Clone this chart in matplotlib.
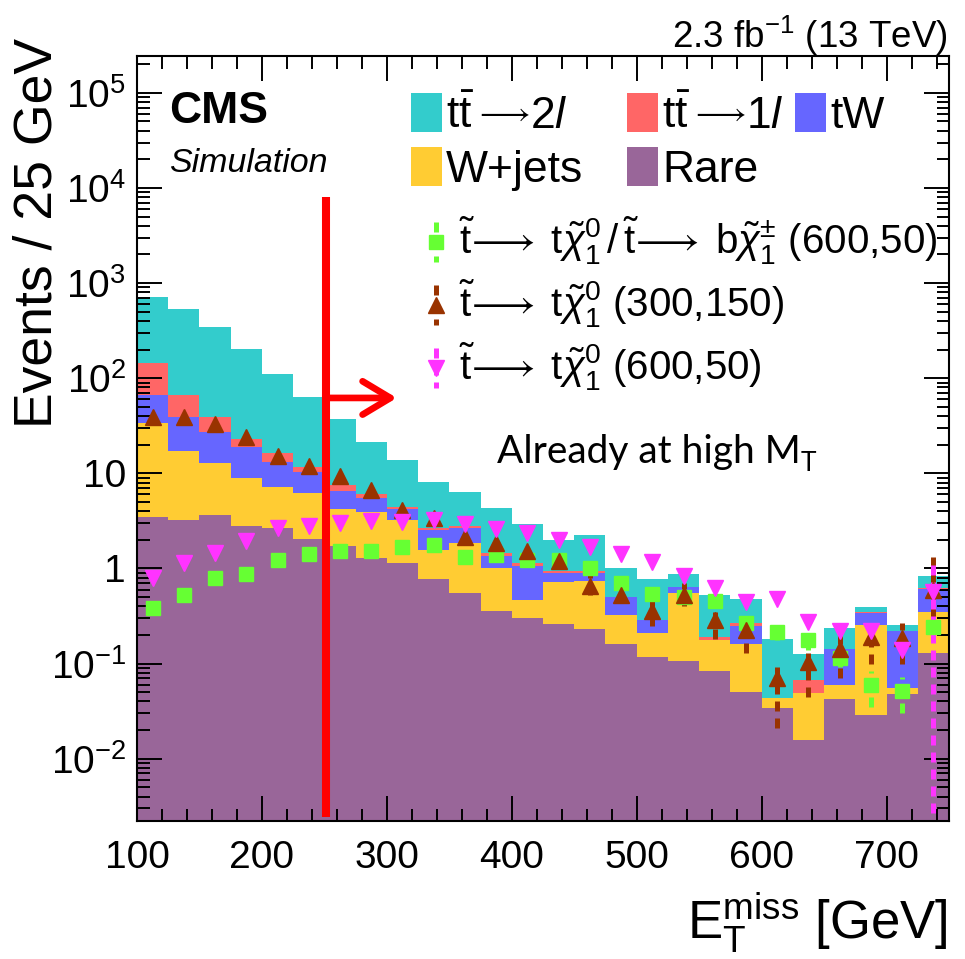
import numpy as np
import matplotlib
matplotlib.use('Agg')
import matplotlib.pyplot as plt
from matplotlib.ticker import FixedLocator, MultipleLocator, LogLocator, NullFormatter, FixedFormatter
from matplotlib.lines import Line2D
from matplotlib.patches import Rectangle, FancyArrowPatch

plt.rcParams['font.family'] = ['Liberation Sans', 'DejaVu Sans']
plt.rcParams['mathtext.fontset'] = 'custom'
plt.rcParams['mathtext.rm'] = 'Liberation Sans'
plt.rcParams['mathtext.it'] = 'Liberation Sans:italic'
plt.rcParams['mathtext.bf'] = 'Liberation Sans:bold'
plt.rcParams['mathtext.sf'] = 'Liberation Sans'

# ---------------- data ----------------
edges = np.arange(100, 751, 25)  # E_T^miss bins [GeV]

rare = [3.44, 3.23, 3.61, 2.81, 2.64, 2.02, 1.72, 1.30, 1.15, 0.77, 0.55, 0.357, 0.30,
        0.26, 0.229, 0.16, 0.116, 0.107, 0.0836, 0.0506, 0.0344, 0.0157, 0.042, 0.0288, 0.048, 0.13]
wjets = [30.6, 14.1, 9.09, 6.04, 4.56, 4.23, 2.45, 2.60, 2.08, 0.79, 1.29, 0.663, 0.166,
         0.46, 0.511, 0.164, 0.094, 0.441, 0.0934, 0.109, 0.0094, 0.0329, 0.0175, 0.225, 0.007, 0.221]
tw = [32.5, 21.5, 14.3, 9.85, 6.0, 4.15, 2.39, 1.56, 0.94, 0.98, 0.80, 0.33, 0.604,
      0.17, 0.16, 0.181, 0.08, 0.086, 0.0, 0.088, 0.0, 0.0, 0.0825, 0.083, 0.165, 0.259]
tt1l = [78.5, 27.7, 11.8, 4.2, 3.1, 1.3, 0.94, 0.54, 0.23, 0.10, 0.17, 0.09, 0.06,
        0.05, 0.04, 0.0, 0.0, 0.0, 0.012, 0.017, 0.0, 0.0186, 0.0, 0.014, 0.0, 0.008]
tt2l = [568, 466, 308, 178, 94.7, 52.1, 29.5, 15.2, 9.4, 5.56, 3.59, 2.91, 1.80,
        1.05, 1.30, 0.515, 0.48, 0.233, 0.331, 0.208, 0.136, 0.0578, 0.096, 0.045, 0.034, 0.222]

sig_tb_600_50 = [0.38, 0.53, 0.79, 0.87, 1.23, 1.41, 1.54, 1.54, 1.68, 1.78, 1.33, 1.38, 1.22,
                 1.23, 1.02, 0.71, 0.54, 0.50, 0.45, 0.265, 0.216, 0.177, 0.114, 0.060, 0.051, 0.24]
sig_tt_300_150 = [38.8, 39.4, 33.0, 23.9, 15.2, 11.9, 9.4, 6.7, 4.1, 3.36, 2.16, 1.85, 1.54,
                  1.21, 0.65, 0.53, 0.36, 0.53, 0.287, 0.225, 0.070, 0.105, 0.144, 0.19, 0.184, 0.60]
sig_tt_600_50 = [0.79, 1.15, 1.46, 1.95, 2.64, 2.79, 2.98, 3.12, 3.08, 3.23, 2.93, 2.61, 2.36,
                 2.01, 1.67, 1.42, 1.18, 0.83, 0.62, 0.44, 0.473, 0.276, 0.222, 0.222, 0.139, 0.57]

# error-bar bounds (nan = no visible bar)
nan = np.nan
tb_lo = [nan]*20 + [0.177, 0.139, 0.093, 0.035, 0.030, 0.19]
tb_hi = [nan]*20 + [0.27, 0.21, 0.139, 0.083, 0.073, 0.30]
tt300_lo = [nan]*13 + [1.0, 0.52, 0.45, 0.25, 0.40, 0.18, 0.129, 0.021, 0.045, 0.07, 0.10, 0.10, 0.30]
tt300_hi = [nan]*13 + [1.44, 0.89, 0.76, 0.48, 0.70, 0.40, 0.31, 0.109, 0.163, 0.225, 0.265, 0.265, 1.35]
tt600_lo = [nan]*25 + [1e-4]
tt600_hi = [nan]*25 + [1.18]

# legend names, split into pieces: (text, fontsize, raise_px)
bkg_names = [[(r"$\mathrm{t\bar{t}}$", 32, 0), (r"$\longrightarrow$", 23, 6), (r"2$\mathit{l}$", 32, 0)],
             [(r"$\mathrm{t\bar{t}}$", 32, 0), (r"$\longrightarrow$", 23, 6), (r"1$\mathit{l}$", 32, 0)],
             [("tW", 32, 0)], [("W+jets", 32, 0)], [("Rare", 32, 0)]]

# ---------------- style ----------------
c_rare = '#996699'
c_w = '#FFCC33'
c_tw = '#6666FF'
c_1l = '#FF6666'
c_2l = '#33CCCC'
c_green = '#66FF33'
c_brown = '#993300'
c_mag = '#FF33FF'

W, H = 965, 959
fig = plt.figure(figsize=(W/100, H/100), dpi=100)
ax = fig.add_axes([137/W, 1-821/H, (949-137)/W, (821-56)/H])
ax.set_yscale('log')

layers = [(rare, c_rare), (wjets, c_w), (tw, c_tw), (tt1l, c_1l), (tt2l, c_2l)]
base = np.full(len(edges)-1, 1e-6)
for vals, col in layers:
    top = base + np.asarray(vals)
    ax.stairs(top, edges, baseline=base.copy(), fill=True, color=col, lw=0, zorder=1)
    base = top

centers = 0.5*(edges[:-1] + edges[1:])
dash = (0, (2.0, 1.4))

def draw_sig(vals, lo, hi, col, marker, ms):
    lo = np.asarray(lo, float); hi = np.asarray(hi, float)
    m = ~np.isnan(lo)
    ax.vlines(centers[m], lo[m], hi[m], colors=col, linestyles=dash, lw=3.6, zorder=3)
    ax.plot(centers, vals, ls='none', marker=marker, ms=ms, color=col, mec=col, zorder=4)

draw_sig(sig_tb_600_50, tb_lo, tb_hi, c_green, 's', 10)
draw_sig(sig_tt_300_150, tt300_lo, tt300_hi, c_brown, '^', 11.5)
draw_sig(sig_tt_600_50, tt600_lo, tt600_hi, c_mag, 'v', 11.5)

ax.set_xlim(100, 750)
ax.set_ylim(10**-2.655, 10**5.387)

# ticks
ax.xaxis.set_major_locator(MultipleLocator(100))
ax.xaxis.set_minor_locator(MultipleLocator(20))
dec = [1e-2, 1e-1, 1, 10, 1e2, 1e3, 1e4, 1e5]
declab = [r'$10^{-2}$', r'$10^{-1}$', '1', '10', r'$10^{2}$', r'$10^{3}$', r'$10^{4}$', r'$10^{5}$']
ax.yaxis.set_major_locator(FixedLocator(dec))
ax.yaxis.set_major_formatter(FixedFormatter(declab))
ax.yaxis.set_minor_locator(LogLocator(base=10, subs=np.arange(2, 10), numticks=50))
ax.yaxis.set_minor_formatter(NullFormatter())
ax.tick_params(which='both', direction='in', top=True, right=True, width=1.4, color='black')
ax.tick_params(which='major', length=18)
ax.tick_params(which='minor', length=9)
ax.tick_params(axis='x', which='major', labelsize=28, pad=14)
ax.tick_params(axis='y', which='major', labelsize=28, pad=8)
for s in ax.spines.values():
    s.set_linewidth(1.5)
    s.set_zorder(6)

# labels
fig.text(38/W, 1-38/H, 'Events / 25 GeV', rotation=90, ha='center', va='top', fontsize=38.5)
fig.text(948/W, 1-955/H, r"$\mathrm{E}_{\mathrm{T}}^{\mathrm{miss}}$ [GeV]", ha='right', va='bottom', fontsize=38)
fig.text(948/W, 1-48/H, r"2.3 fb$^{-1}$ (13 TeV)", ha='right', va='baseline', fontsize=26.5)
fig.text(169/W, 1-123/H, 'CMS', fontweight='bold', fontsize=32, va='baseline')
fig.text(169/W, 1-172/H, 'Simulation', style='italic', fontsize=24.5, va='baseline')

fig.canvas.draw()
renderer = fig.canvas.get_renderer()

def place_seq(x_px, base_px, pieces, gap=0):
    x = x_px
    for txt, fs, dy in pieces:
        t = fig.text(x/W, 1-(base_px-dy)/H, txt, fontsize=fs, va='baseline', ha='left')
        bb = t.get_window_extent(renderer)
        x = bb.x1 + gap

# legend (background)
def box(x0, y0, x1, y1, col):
    fig.add_artist(Rectangle((x0/W, 1-y1/H), (x1-x0)/W, (y1-y0)/H, transform=fig.transFigure,
                             facecolor=col, edgecolor='none'))
leg = [(411, 93, c_2l, bkg_names[0]), (627, 93, c_1l, bkg_names[1]), (795, 93, c_tw, bkg_names[2]),
       (411, 147, c_w, bkg_names[3]), (627, 147, c_rare, bkg_names[4])]
for x0, y0, col, pieces in leg:
    box(x0, y0, x0+31, y0+39, col)
    place_seq(x0+35, y0+35, pieces, gap=0)

# legend (signals)
arrow_t = r"\tilde{\mathrm{t}}\!\longrightarrow\;"
sig_leg = [(242, c_green, 's', 10,
            r"$" + arrow_t + r"\mathrm{t}\tilde{\chi}^{0}_{1}\,/\," + arrow_t + r"\mathrm{b}\tilde{\chi}^{\pm}_{1}$ (600,50)"),
           (305, c_brown, '^', 11.5, r"$" + arrow_t + r"\mathrm{t}\tilde{\chi}^{0}_{1}$ (300,150)"),
           (368, c_mag, 'v', 11.5, r"$" + arrow_t + r"\mathrm{t}\tilde{\chi}^{0}_{1}$ (600,50)")]
for yc, col, mk, ms, name in sig_leg:
    fig.add_artist(Line2D([436/W, 436/W], [1-(yc-20)/H, 1-(yc+20)/H], transform=fig.transFigure,
                          color=col, lw=3.6, ls=dash))
    fig.add_artist(Line2D([436/W], [1-yc/H], transform=fig.transFigure, ls='none', marker=mk, ms=ms,
                          color=col))
    fig.text(459/W, 1-(yc+12)/H, name, fontsize=29, va='baseline', ha='left')

# annotation: red cut line + arrow
ax.plot([251, 251], [8000, 2.45e-3], color='#FF0000', lw=5.8, solid_capstyle='butt', zorder=7)
arr = FancyArrowPatch((251, 62), (308, 62), arrowstyle='->,head_length=20,head_width=12',
                      mutation_scale=1, color='#FF0000', lw=4.8, zorder=7, shrinkA=0, shrinkB=0,
                      capstyle='round', joinstyle='round')
ax.add_patch(arr)

t = fig.text(497/W, 1-463/H, 'Already at high M', family='Lato', fontsize=28, va='baseline', ha='left')
bb = t.get_window_extent(renderer)
fig.text(bb.x1/W, 1-471/H, 'T', family='Lato', fontsize=19, va='baseline', ha='left')

fig.savefig('out.png', dpi=100)
